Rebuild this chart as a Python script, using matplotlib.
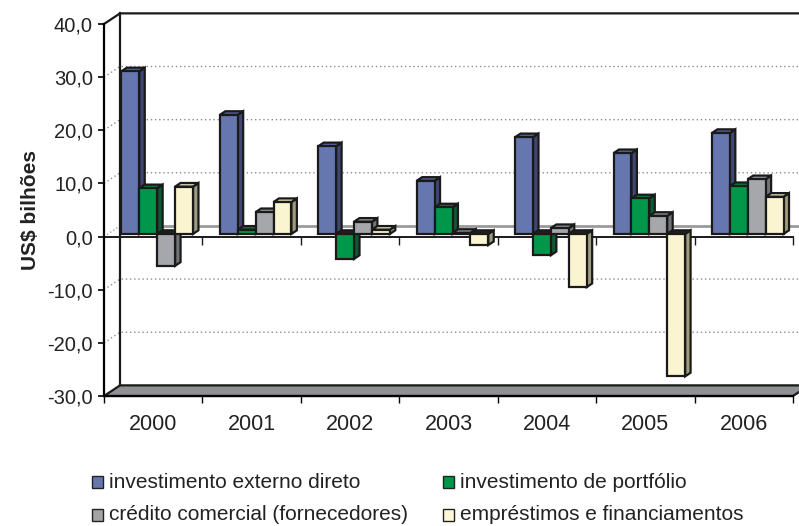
import matplotlib.pyplot as plt
from matplotlib.patches import Polygon, Rectangle

plt.rcParams['font.family'] = ['Liberation Sans', 'DejaVu Sans']

# US$ bilhões por ano
anos = ['2000', '2001', '2002', '2003', '2004', '2005', '2006']
investimento_direto = [30.6, 22.4, 16.5, 10.0, 18.2, 15.2, 19.0]
investimento_portfolio = [8.6, 0.8, -4.7, 5.0, -4.0, 6.7, 9.0]
credito_comercial = [-6.0, 4.1, 2.3, 0.2, 1.1, 3.4, 10.3]
emprestimos = [8.9, 6.0, 0.8, -2.1, -10.0, -26.8, 7.0]

nomes = ['investimento externo direto', 'investimento de portfólio',
         'crédito comercial (fornecedores)', 'empréstimos e financiamentos']
series = [investimento_direto, investimento_portfolio, credito_comercial, emprestimos]

# frente, lateral, topo
cores = [('#6676AE', '#3F4772', '#5866A0'),
         ('#00974A', '#0B5C33', '#07793D'),
         ('#A6A7AA', '#727476', '#8F9194'),
         ('#FAF4D0', '#9F9C7E', '#DED8B3')]
cores_leg = ['#6677B0', '#009848', '#A3A3A6', '#FFF8D6']

yticks = [-30, -20, -10, 0, 10, 20, 30, 40]
ymin, ymax = -30, 40

# deslocamento da profundidade total (unidades de dados)
DX, DY = 0.1626, 2.0
D0, D1 = 0.25, 0.59  # profundidade das barras
EDGE = '#1A1A1A'

W, H = 799, 526
fig = plt.figure(figsize=(W / 100, H / 100), dpi=100)
ax = fig.add_axes([104 / W, 1 - 396 / H, 689 / W, 372 / H])
ax.set_xlim(0, len(anos))
ax.set_ylim(ymin, ymax)
for s in ['top', 'right']:
    ax.spines[s].set_visible(False)
ax.spines['left'].set_linewidth(1.6)
ax.spines['bottom'].set_linewidth(1.6)
ax.spines['left'].set_zorder(6)

ax.set_yticks(yticks)
ax.set_yticklabels([f'{v:.1f}'.replace('.', ',') for v in yticks], fontsize=14.5,
                   color='#222222')
ax.tick_params(axis='y', direction='out', length=4.5, width=1.2, pad=3.5)
ax.set_xticks(range(len(anos) + 1))
ax.set_xticklabels([])
ax.tick_params(axis='x', which='major', direction='out', length=5, width=1.0)
ax.set_xticks([i + 0.5 for i in range(len(anos))], minor=True)
ax.set_xticklabels(anos, minor=True, fontsize=15.5, color='#222222')
ax.tick_params(axis='x', which='minor', length=0, pad=13)


def P(x, y, d):
    return (x + d * DX, y + d * DY)


def face(pts, fc, z, lw=1.6, ec=EDGE):
    ax.add_patch(Polygon(pts, closed=True, facecolor=fc, edgecolor=ec, lw=lw,
                         joinstyle='miter', zorder=z, clip_on=False))


n = len(anos)
# piso
face([P(0, ymin, 0), P(n, ymin, 0), P(n, ymin, 1), P(0, ymin, 1)], '#909194', 2, lw=1.6)

# parede do fundo
ax.plot([0, DX, n + DX], [ymax, ymax + DY, ymax + DY], color=EDGE, lw=1.6, clip_on=False, zorder=2)
ax.plot([DX, DX], [ymin + DY, ymax + DY], color=EDGE, lw=1.6, clip_on=False, zorder=2)
for v in yticks[1:-1]:
    if v == 0:
        ax.plot([DX, n + DX], [DY, DY], color='#9A9A9A', lw=2.0, clip_on=False, zorder=1)
        ax.plot([0, DX], [0, DY], color='#A0A0A0', lw=1.0, ls=':', clip_on=False, zorder=1)
    else:
        ax.plot([0, DX, n + DX], [v, v + DY, v + DY], color='#8C8C8C', lw=1.0,
                ls=(0, (1, 2)), clip_on=False, zorder=1)

# linha do zero na frente
ax.plot([0, n], [0, 0], color=EDGE, lw=1.4, zorder=1.5, clip_on=False)
ax.plot(range(1, n + 1), [0] * n, ls='none', marker=3, ms=6, mew=1.0, color=EDGE,
        zorder=1.5, clip_on=False)

# barras 3D
w = 1 / 5.5
z = 3
for i in range(n):
    centro = i + 0.5
    for j, (vals, (cf, cs, ct)) in enumerate(zip(series, cores)):
        v = vals[i]
        x0 = centro - 2 * w + j * w
        lo, hi = min(0, v), max(0, v)
        face([P(x0 + w, lo, D0), P(x0 + w, lo, D1), P(x0 + w, hi, D1), P(x0 + w, hi, D0)], cs, z)
        face([P(x0, hi, D0), P(x0 + w, hi, D0), P(x0 + w, hi, D1), P(x0, hi, D1)],
             ct if v >= 0 else '#222222', z)
        face([P(x0, lo, D0), P(x0 + w, lo, D0), P(x0 + w, hi, D0), P(x0, hi, D0)], cf, z)
        z += 0.01

fig.text(30 / W, 1 - 210 / H, 'US$ bilhões', rotation=90, fontsize=15,
         fontweight='bold', ha='center', va='center', color='#222222')

# legenda em duas colunas
col_x = [92, 443]
lin_y = [482, 515]
for k, (nome, cor) in enumerate(zip(nomes, cores_leg)):
    lx = col_x[k % 2]
    ly = lin_y[k // 2]
    fig.add_artist(Rectangle((lx / W, 1 - (ly + 6) / H), 11 / W, 12 / H,
                             transform=fig.transFigure, facecolor=cor,
                             edgecolor='#222222', lw=1.0))
    fig.text((lx + 17) / W, 1 - ly / H, nome, fontsize=15, ha='left', va='center',
             color='#222222')

fig.savefig('out.png', dpi=100)
